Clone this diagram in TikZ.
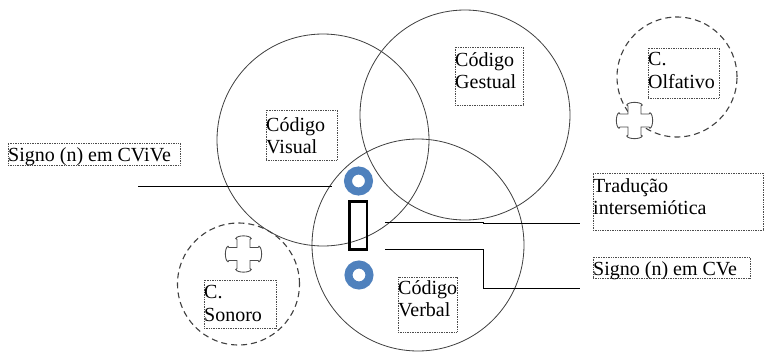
\documentclass[tikz,border=0pt]{standalone}
\usepackage{fontspec}
\setmainfont{Liberation Serif}
\definecolor{ringblue}{RGB}{79,129,189}
\begin{document}
\begin{tikzpicture}[x=1pt,y=-1pt,
  bigcirc/.style={circle, draw=black!75, line width=0.8pt, inner sep=0pt},
  dashcirc/.style={circle, draw=black!75, line width=1.1pt, dash pattern=on 6pt off 4pt, inner sep=0pt},
  lbox/.style={rectangle, draw=black!70, densely dotted, line width=0.7pt, inner sep=0pt},
  txt/.style={inner sep=0pt, anchor=north west, align=left, font=\fontsize{20}{22.5}\selectfont},
  conn/.style={draw=black, line width=0.9pt},
  ring/.style={circle, draw=ringblue, line width=8pt, minimum size=21pt, inner sep=0pt},
  slot/.style={rectangle, draw=black, line width=2.7pt, minimum width=17.5pt, minimum height=48pt, inner sep=0pt},
  plusicon/.pic={
    \draw[fill=white, draw=black!70, line width=0.9pt]
      (6.5,6.5) -- (14.5,6.5) -- (15.5,7.7) .. controls (19,6.5) and (19,-6.5) .. (15.5,-7.7) -- (14.5,-6.5) -- (6.5,-6.5)
      -- (6.5,-14.5) -- (7.7,-15.5) .. controls (6.5,-19) and (-6.5,-19) .. (-7.7,-15.5) -- (-6.5,-14.5) -- (-6.5,-6.5)
      -- (-14.5,-6.5) -- (-15.5,-7.7) .. controls (-19,-6.5) and (-19,6.5) .. (-15.5,7.7) -- (-14.5,6.5) -- (-6.5,6.5)
      -- (-6.5,14.5) -- (-7.7,15.5) .. controls (-6.5,19) and (6.5,19) .. (7.7,15.5) -- (6.5,14.5) -- cycle;
  }
]
\useasboundingbox (0,0) rectangle (764,356);
\fill[white] (0,0) rectangle (764,356);

% big circles
\node[bigcirc, minimum size=212pt] (cVis) at (323,140) {};
\node[bigcirc, minimum size=210pt] (cGes) at (465,115) {};
\node[bigcirc, minimum size=212pt] (cVer) at (418,245) {};

% dashed circles
\node[dashcirc, minimum size=120pt] (cOlf) at (677,77) {};
\node[dashcirc, minimum size=122pt] (cSon) at (238.5,284) {};

% crosses
\pic (xOlf) at (634.5,120.5) {plusicon};
\pic (xSon) at (243.5,254) {plusicon};

% rings and slot
\node[ring] (r1) at (358.5,181) {};
\node[ring] (r2) at (359,275) {};
\node[slot] (sl) at (358.3,225.5) {};

% connectors
\coordinate (a1) at (138,186);
\coordinate (a2) at (332,186);
\coordinate (b1) at (385,222);
\coordinate (b2) at (483,222);
\coordinate (b3) at (483,223);
\coordinate (b4) at (580,223);
\coordinate (c1) at (385,249);
\coordinate (c2) at (483,249);
\coordinate (c3) at (483,288);
\coordinate (c4) at (580,288);
\draw[conn] (a1) -- (a2);
\draw[conn] (b1) -- (b2) -- (b3) -- (b4);
\draw[conn] (c1) -- (c2) -- (c3) -- (c4);

% label boxes
\node[lbox, minimum width=71pt, minimum height=50pt] (bVis) at (301.5,135) {};
\node[lbox, minimum width=68pt, minimum height=58pt] (bGes) at (489,76) {};
\node[lbox, minimum width=59pt, minimum height=55pt] (bVer) at (427.5,304.5) {};
\node[lbox, minimum width=71pt, minimum height=50pt] (bOlf) at (683.5,73) {};
\node[lbox, minimum width=72pt, minimum height=48pt] (bSon) at (240,304) {};
\node[lbox, minimum width=172pt, minimum height=22pt] (bCViVe) at (94,154) {};
\node[lbox, minimum width=170pt, minimum height=57pt] (bTrad) at (678,201.5) {};
\node[lbox, minimum width=157pt, minimum height=21pt] (bCVe) at (671.5,267.5) {};

% texts
\node[txt] (tVis) at (266,117.3) {Código\\Visual};
\node[txt] (tGes) at (455,52.3) {Código\\Gestual};
\node[txt] (tVer) at (398,280.3) {Código\\Verbal};
\node[txt] (tOlf) at (648,52.5) {C.\\Olfativo};
\node[txt] (tSon) at (204,285.3) {C.\\Sonoro};
\node[txt] (tCViVe) at (8,147.3) {Signo (n) em CViVe};
\node[txt] (tTrad) at (593,178) {Tradução\\intersemiótica};
\node[txt] (tCVe) at (593,261.5) {Signo (n) em CVe};
\end{tikzpicture}
\end{document}
